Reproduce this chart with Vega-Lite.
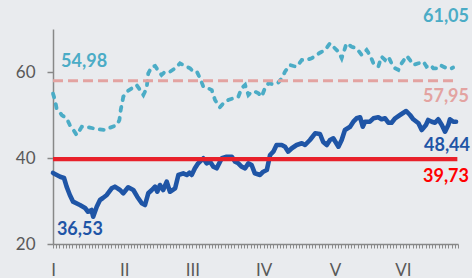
{
  "$schema": "https://vega.github.io/schema/vega-lite/v6.json",
  "autosize": "none",
  "width": 405,
  "height": 215,
  "padding": {"left": 53, "top": 29, "right": 14, "bottom": 34},
  "background": "#e9ebee",
  "config": {"font": "Lato", "view": {"stroke": null}},
  "datasets": {
    "solid": [
      {"t":0,"v":36.53},{"t":2.2,"v":35.65},{"t":3.4,"v":35.35},{"t":4.2,"v":33.33},{"t":5.2,"v":31.4},{"t":6.2,"v":29.84},{"t":8.3,"v":29.07},{"t":9.9,"v":28.37},{"t":10.8,"v":27.51},{"t":11.9,"v":27.91},{"t":12.4,"v":26.35},{"t":13.5,"v":28.67},{"t":14.5,"v":30.23},{"t":15.4,"v":30.7},{"t":16.6,"v":31.4},{"t":18.1,"v":32.95},{"t":19.1,"v":33.33},{"t":20.7,"v":32.56},{"t":21.7,"v":31.79},{"t":23.2,"v":33.19},{"t":24.8,"v":32.56},{"t":26.0,"v":31.0},{"t":27.4,"v":29.47},{"t":28.4,"v":29.07},{"t":29.4,"v":31.79},{"t":30.5,"v":32.56},{"t":31.5,"v":33.33},{"t":32.2,"v":32.16},{"t":33.0,"v":33.72},{"t":34.0,"v":32.56},{"t":35.1,"v":34.49},{"t":36.1,"v":32.16},{"t":37.7,"v":32.95},{"t":38.7,"v":36.05},{"t":40.2,"v":36.44},{"t":41.3,"v":36.05},{"t":42.1,"v":36.58},{"t":42.8,"v":36.05},{"t":43.8,"v":37.6},{"t":44.8,"v":38.77},{"t":46.4,"v":39.93},{"t":47.4,"v":38.77},{"t":48.5,"v":39.14},{"t":49.5,"v":37.98},{"t":50.5,"v":37.6},{"t":52.1,"v":39.93},{"t":53.6,"v":40.3},{"t":55.2,"v":40.3},{"t":56.2,"v":39.14},{"t":57.2,"v":38.77},{"t":58.2,"v":37.98},{"t":59.3,"v":37.6},{"t":60.3,"v":38.77},{"t":61.3,"v":38.37},{"t":62.3,"v":36.44},{"t":63.9,"v":36.05},{"t":64.9,"v":36.81},{"t":66.0,"v":37.21},{"t":67.0,"v":40.7},{"t":68.0,"v":41.47},{"t":69.0,"v":43.02},{"t":70.6,"v":43.02},{"t":71.6,"v":42.63},{"t":72.6,"v":41.47},{"t":73.7,"v":42.26},{"t":75.2,"v":43.02},{"t":76.8,"v":43.42},{"t":77.8,"v":43.02},{"t":79.3,"v":44.19},{"t":80.9,"v":45.74},{"t":82.4,"v":45.58},{"t":83.4,"v":43.72},{"t":84.5,"v":43.02},{"t":85.5,"v":44.19},{"t":86.5,"v":44.58},{"t":88.1,"v":42.63},{"t":89.1,"v":44.19},{"t":90.1,"v":46.51},{"t":91.7,"v":47.28},{"t":92.7,"v":48.44},{"t":93.7,"v":49.23},{"t":94.8,"v":49.47},{"t":95.6,"v":47.28},{"t":96.3,"v":48.44},{"t":97.8,"v":48.44},{"t":98.9,"v":49.23},{"t":100.4,"v":49.47},{"t":101.4,"v":49.0},{"t":102.5,"v":49.23},{"t":103.5,"v":48.21},{"t":104.5,"v":48.21},{"t":105.6,"v":49.23},{"t":107.1,"v":50.0},{"t":109.0,"v":50.93},{"t":110.2,"v":50.0},{"t":111.2,"v":49.0},{"t":112.8,"v":48.07},{"t":113.8,"v":46.51},{"t":115.1,"v":47.67},{"t":115.8,"v":48.84},{"t":116.9,"v":48.44},{"t":117.9,"v":48.21},{"t":118.9,"v":49.0},{"t":120.0,"v":47.67},{"t":121.0,"v":46.12},{"t":122.0,"v":47.67},{"t":122.5,"v":49.0},{"t":123.5,"v":48.44},{"t":124.4,"v":48.44}
    ],
    "dashed": [
      {"t":0,"v":54.98},{"t":0.6,"v":53.49},{"t":1.1,"v":51.56},{"t":2.7,"v":50.0},{"t":4.2,"v":49.23},{"t":5.2,"v":47.67},{"t":6.3,"v":46.51},{"t":7.3,"v":45.35},{"t":8.9,"v":47.28},{"t":9.9,"v":47.28},{"t":11.4,"v":47.05},{"t":13.5,"v":46.74},{"t":16.0,"v":46.51},{"t":17.6,"v":47.05},{"t":19.7,"v":47.67},{"t":20.5,"v":48.84},{"t":20.9,"v":51.16},{"t":21.7,"v":54.26},{"t":23.2,"v":55.65},{"t":24.8,"v":56.44},{"t":25.8,"v":56.98},{"t":26.9,"v":55.81},{"t":27.9,"v":54.65},{"t":28.9,"v":56.21},{"t":29.4,"v":59.7},{"t":30.5,"v":61.23},{"t":31.5,"v":61.4},{"t":32.5,"v":60.3},{"t":33.5,"v":59.3},{"t":34.6,"v":60.07},{"t":36.1,"v":60.07},{"t":37.7,"v":60.86},{"t":39.2,"v":62.02},{"t":40.2,"v":61.63},{"t":41.3,"v":61.23},{"t":42.3,"v":60.86},{"t":43.3,"v":60.07},{"t":44.4,"v":60.07},{"t":45.4,"v":58.53},{"t":46.4,"v":56.58},{"t":47.9,"v":56.21},{"t":49.0,"v":55.81},{"t":50.0,"v":53.49},{"t":51.5,"v":51.79},{"t":52.6,"v":52.72},{"t":54.1,"v":53.49},{"t":55.7,"v":53.88},{"t":57.2,"v":54.26},{"t":58.2,"v":56.21},{"t":59.3,"v":56.98},{"t":60.3,"v":54.65},{"t":61.3,"v":55.42},{"t":62.3,"v":55.42},{"t":63.4,"v":55.05},{"t":64.4,"v":54.26},{"t":65.4,"v":56.21},{"t":66.5,"v":57.37},{"t":68.0,"v":57.14},{"t":69.5,"v":57.51},{"t":70.6,"v":58.53},{"t":71.6,"v":60.07},{"t":73.1,"v":61.63},{"t":74.2,"v":61.4},{"t":75.2,"v":61.23},{"t":76.8,"v":62.79},{"t":78.3,"v":62.79},{"t":79.8,"v":63.19},{"t":80.9,"v":63.72},{"t":82.4,"v":64.49},{"t":84.0,"v":65.12},{"t":85.5,"v":66.67},{"t":86.5,"v":65.88},{"t":88.1,"v":64.72},{"t":89.1,"v":63.19},{"t":90.1,"v":65.51},{"t":90.6,"v":66.67},{"t":92.2,"v":65.88},{"t":93.7,"v":65.51},{"t":95.3,"v":63.95},{"t":96.8,"v":65.12},{"t":97.8,"v":63.95},{"t":98.9,"v":62.02},{"t":100.4,"v":61.23},{"t":101.4,"v":63.56},{"t":102.5,"v":62.79},{"t":103.5,"v":63.56},{"t":104.5,"v":62.02},{"t":105.6,"v":60.86},{"t":106.6,"v":60.47},{"t":107.6,"v":62.02},{"t":109.2,"v":63.72},{"t":110.2,"v":62.79},{"t":111.2,"v":61.63},{"t":112.8,"v":62.02},{"t":114.3,"v":62.4},{"t":115.3,"v":61.23},{"t":116.4,"v":61.63},{"t":117.4,"v":60.86},{"t":118.4,"v":60.86},{"t":119.4,"v":61.63},{"t":120.5,"v":61.23},{"t":121.5,"v":60.86},{"t":122.5,"v":60.7},{"t":123.5,"v":61.05}
    ],
    "refs": [
      {"t":0,"t1":124.8,"v":39.73,"kind":"red"},
      {"t":0,"t1":124.8,"v":57.95,"kind":"pink"}
    ],
    "labels": [
      {"t":9.6,"v":62.3,"label":"54,98","kind":"light"},
      {"t":121.3,"v":72.7,"label":"61,05","kind":"light"},
      {"t":121.3,"v":54.2,"label":"57,95","kind":"pink"},
      {"t":121.6,"v":42.8,"label":"48,44","kind":"dark"},
      {"t":121.3,"v":35.6,"label":"39,73","kind":"red"},
      {"t":8.3,"v":23.3,"label":"36,53","kind":"dark"}
    ]
  },
  "encoding": {
    "x": {"field": "t", "type": "quantitative", "scale": {"domain": [0, 125], "nice": false, "zero": false},
      "axis": {
        "values": [0,1,2,3,4,5,6,7,8,9,10,11,12,13,14,15,16,17,18,19,20,21,22,23,24,25,26,27,28,29,30,31,32,33,34,35,36,37,38,39,40,41,42,43,44,45,46,47,48,49,50,51,52,53,54,55,56,57,58,59,60,61,62,63,64,65,66,67,68,69,70,71,72,73,74,75,76,77,78,79,80,81,82,83,84,85,86,87,88,89,90,91,92,93,94,95,96,97,98,99,100,101,102,103,104,105,106,107,108,109,110,111,112,113,114,115,116,117,118,119,120,121,122,123,124,125],
        "labelExpr": "datum.value == 0 ? 'I' : datum.value == 22 ? 'II' : datum.value == 43 ? 'III' : datum.value == 65 ? 'IV' : datum.value == 87 ? 'V' : datum.value == 108 ? 'VI' : ''",
        "labelOverlap": false, "labelFlush": false, "labelBound": false,
        "title": null, "grid": false,
        "domainColor": "#888888", "domainWidth": 1.5,
        "tickColor": "#8a8a8a", "tickSize": 4, "tickWidth": 1,
        "labelFontSize": 17, "labelColor": "#595959", "labelPadding": 14, "labelFont": "Lato"
      }
    },
    "y": {"field": "v", "type": "quantitative", "scale": {"domain": [20, 70], "nice": false, "zero": false},
      "axis": {
        "values": [20, 40, 60], "title": null, "grid": false,
        "domainColor": "#888888", "domainWidth": 1.5,
        "tickColor": "#888888", "tickSize": 6, "tickWidth": 1.5,
        "labelFontSize": 17, "labelColor": "#595959", "labelPadding": 12, "labelFont": "Lato"
      }
    }
  },
  "layer": [
    {
      "data": {"name": "dashed"},
      "mark": {"type": "line", "color": "#4bacc6", "strokeWidth": 3.8, "strokeDash": [4, 7], "strokeCap": "round"}
    },
    {
      "data": {"name": "solid"},
      "mark": {"type": "line", "color": "#1f55a6", "strokeWidth": 4.6, "strokeJoin": "round", "strokeCap": "round"}
    },
    {
      "data": {"name": "refs"},
      "mark": {"type": "rule"},
      "encoding": {
        "x2": {"field": "t1"},
        "color": {"field": "kind", "type": "nominal", "scale": {"domain": ["red", "pink"], "range": ["#e8202a", "#e3a3a1"]}, "legend": null},
        "strokeWidth": {"field": "kind", "type": "nominal", "scale": {"domain": ["red", "pink"], "range": [4.3, 3]}, "legend": null},
        "strokeDash": {"field": "kind", "type": "nominal", "scale": {"domain": ["red", "pink"], "range": [[1, 0], [10, 5]]}, "legend": null}
      }
    },
    {
      "data": {"name": "labels"},
      "mark": {"type": "text", "fontSize": 18, "fontWeight": "bold", "font": "Lato", "align": "center", "baseline": "middle"},
      "encoding": {
        "text": {"field": "label"},
        "color": {"field": "kind", "type": "nominal", "scale": {"domain": ["light", "pink", "dark", "red"], "range": ["#4bacc6", "#e3a3a1", "#1f55a6", "#ff0000"]}, "legend": null}
      }
    }
  ],
  "resolve": {"scale": {"color": "independent", "strokeWidth": "independent", "strokeDash": "independent"}}
}
